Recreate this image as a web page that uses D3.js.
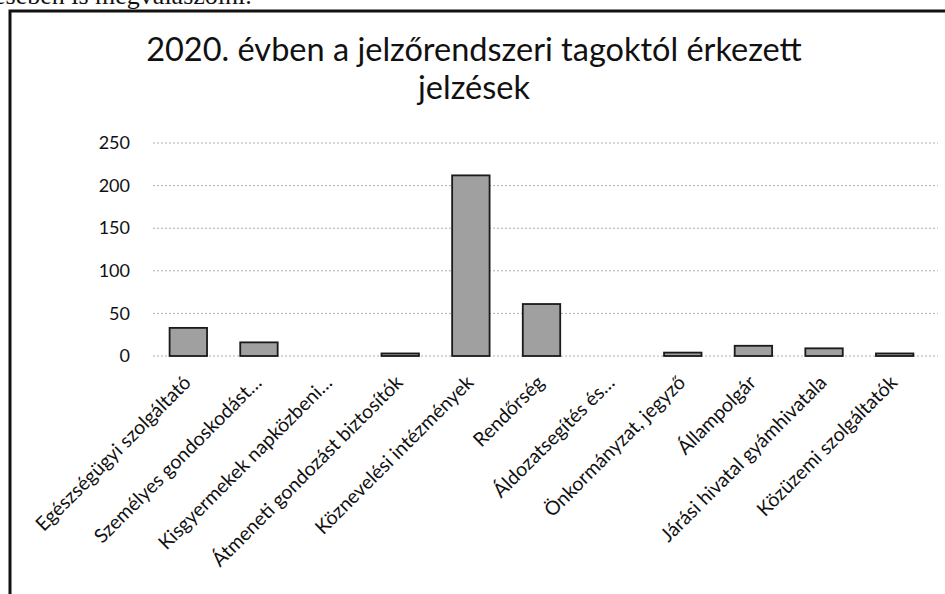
<!DOCTYPE html>
<html>
<head>
<meta charset="utf-8">
<script src="https://cdn.jsdelivr.net/npm/d3@7"></script>
<style>
  body { margin: 0; background: #fff; }
  svg { display: block; font-family: Lato, "Open Sans", sans-serif; }
</style>
</head>
<body>
<svg></svg>
<script>
let categories = [
  "Egészségügyi szolgáltató",
  "Személyes gondoskodást…",
  "Kisgyermekek napközbeni…",
  "Átmeneti gondozást biztosítók",
  "Köznevelési intézmények",
  "Rendőrség",
  "Áldozatsegítés és…",
  "Önkormányzat, jegyző",
  "Állampolgár",
  "Járási hivatal gyámhivatala",
  "Közüzemi szolgáltatók"
];
let values = [33, 16, 0, 3, 212, 61, 0, 4, 12, 9, 3];
let yTicks = [0, 50, 100, 150, 200, 250];
let titleLines = ["2020. évben a jelzőrendszeri tagoktól érkezett", "jelzések"];

let width = 945;
let height = 594;

let svg = d3.select("svg").attr("width", width).attr("height", height);

// leftover line of the scanned page above the chart box
svg.append("text")
  .attr("x", -6)
  .attr("y", 4)
  .style("font-family", "'Liberation Serif', serif")
  .style("font-size", "26px")
  .attr("fill", "#111")
  .text("ésében is megválaszolni.");

// chart box border
svg.append("path")
  .attr("d", "M10,594V11H945")
  .attr("fill", "none")
  .attr("stroke", "#111")
  .attr("stroke-width", 3);

let xScale = d3.scaleBand()
  .domain(categories)
  .range([153, 930])
  .paddingInner(0.47)
  .paddingOuter(0.235);

let yScale = d3.scaleLinear()
  .domain([0, 250])
  .range([356, 143]);

// gridlines
svg.append("g")
  .selectAll("line")
  .data(yTicks)
  .enter()
  .append("line")
  .attr("x1", 153)
  .attr("x2", 938)
  .attr("y1", (d) => yScale(d))
  .attr("y2", (d) => yScale(d))
  .attr("stroke", "#b0b0b0")
  .attr("stroke-dasharray", "2,2");

// y axis labels
let yAxis = d3.axisLeft(yScale).tickValues(yTicks).tickSize(0).tickPadding(0);
let yG = svg.append("g")
  .attr("transform", "translate(130,0)")
  .call(yAxis);
yG.select(".domain").remove();
yG.selectAll("text")
  .style("font-family", "Lato, 'Open Sans', sans-serif")
  .style("font-size", "18px")
  .attr("fill", "#111");

// bars
svg.append("g")
  .selectAll("rect")
  .data(values)
  .enter()
  .append("rect")
  .attr("x", (d, i) => xScale(categories[i]))
  .attr("y", (d) => yScale(d))
  .attr("width", xScale.bandwidth())
  .attr("height", (d) => yScale(0) - yScale(d))
  .attr("fill", "#a0a0a0")
  .attr("stroke", "#1a1a1a")
  .attr("stroke-width", 1.8);

// category labels
let xAxis = d3.axisBottom(xScale).tickSize(0).tickPadding(0);
let xG = svg.append("g")
  .attr("transform", "translate(0,366)")
  .call(xAxis);
xG.select(".domain").remove();
xG.selectAll("text")
  .style("font-family", "Lato, 'Open Sans', sans-serif")
  .style("font-size", "19.5px")
  .attr("fill", "#111")
  .attr("text-anchor", "end")
  .attr("dy", "0.35em")
  .attr("transform", "translate(-1,13) rotate(-45)");

// title
svg.append("g")
  .selectAll("text")
  .data(titleLines)
  .enter()
  .append("text")
  .attr("x", 474)
  .attr("y", (d, i) => 61 + i * 38)
  .attr("text-anchor", "middle")
  .style("font-size", "32.5px")
  .attr("fill", "#111")
  .text((d) => d);
</script>
</body>
</html>
